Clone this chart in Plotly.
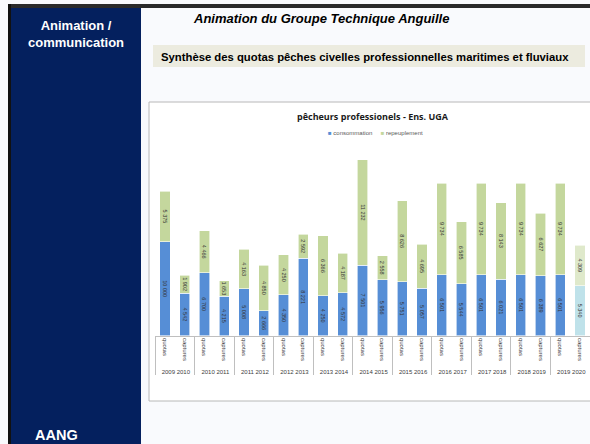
import plotly.graph_objects as go

# Saisons de pêche (civelles) et type de colonne
seasons = ["2009 2010", "2010 2011", "2011 2012", "2012 2013", "2013 2014", "2014 2015",
           "2015 2016", "2016 2017", "2017 2018", "2018 2019", "2019 2020"]
kinds = ["quotas", "captures"]

# Quantités (kg) par saison : quotas puis captures
consommation = [10000, 4542, 6700, 4215, 5008, 2666, 4350, 8221, 4250, 4572, 7501, 5956,
                5751, 5057, 6501, 5544, 6501, 6021, 6501, 6389, 6501, 5340]
repeuplement = [5375, 1902, 4466, 1653, 4163, 4850, 4250, 2592, 6366, 4187, 11232, 2558,
                8626, 4695, 9734, 6585, 9734, 8143, 9734, 6627, 9734, 4309]

outer = [s for s in seasons for _ in kinds]
inner = [k for _ in seasons for k in kinds]

BLUE = "#568ed6"
GREEN = "#c4d79d"
NAVY = "#04205e"

# la saison en cours est représentée en teintes claires
n = len(consommation)
blue_cols = [BLUE] * (n - 1) + ["#bfe2ea"]
green_cols = [GREEN] * (n - 1) + ["#dfe9cb"]

fig = go.Figure()
for name, vals, cols in [("consommation", consommation, blue_cols),
                         ("repeuplement", repeuplement, green_cols)]:
    fig.add_trace(go.Bar(
        x=[outer, inner], y=vals, name=name,
        marker=dict(color=cols, line=dict(color="white", width=0.6)),
        texttemplate="%{y:,}", textposition="inside", textangle=90,
        insidetextanchor="middle", constraintext="none",
        textfont=dict(size=5.5, color="#333333", family="Liberation Sans"),
        showlegend=False,
    ))

W, H = 590, 444


def px(x):
    return x / W


def py(y):
    return 1 - y / H


shapes = [
    # cadre de la diapositive
    dict(type="rect", xref="paper", yref="paper", x0=px(8), x1=1, y0=py(4), y1=py(8),
         fillcolor="#2a2a2a", line_width=0, layer="below"),
    dict(type="rect", xref="paper", yref="paper", x0=px(8), x1=px(11), y0=0, y1=py(4),
         fillcolor="#111111", line_width=0, layer="below"),
    dict(type="rect", xref="paper", yref="paper", x0=px(11), x1=px(141), y0=0, y1=py(8),
         fillcolor=NAVY, line_width=0, layer="below"),
    # bandeau du sous-titre
    dict(type="rect", xref="paper", yref="paper", x0=px(153), x1=px(585), y0=py(67), y1=py(45),
         fillcolor="#ecebdf", line_width=0, layer="below"),
    # zone du graphique
    dict(type="rect", xref="paper", yref="paper", x0=px(149), x1=px(600), y0=py(401), y1=py(102),
         fillcolor="white", line=dict(color="#b8b8b8", width=1), layer="below"),
]


def label(text, x, y, size, color="black", family="Liberation Sans", xanchor="center"):
    return dict(text=text, x=px(x), y=py(y), xref="paper", yref="paper",
                xanchor=xanchor, yanchor="middle", showarrow=False, align="center",
                font=dict(family=family, size=size, color=color))


annotations = [
    label("<b>Animation /<br>communication</b>", 76, 34, 13, "white"),
    label("<b>AANG</b>", 56, 435, 14.5, "white"),
    label("<b><i>Animation du Groupe Technique Anguille</i></b>", 321, 18, 13),
    label("<b>Synthèse des quotas pêches civelles professionnelles maritimes et fluviaux</b>",
          159, 57, 11.3, xanchor="left"),
    label("<b>pêcheurs professionels - Ens. UGA</b>", 373, 116, 9, "#1a1a1a", "Open Sans"),
    # légende
    label(f"<span style='color:{BLUE}'>■</span> consommation     "
          f"<span style='color:{GREEN}'>■</span> repeuplement", 375, 133, 6, "#595959"),
]

fig.update_layout(
    width=W, height=H, autosize=False,
    margin=dict(l=0, r=0, t=0, b=0),
    paper_bgcolor="#f9fafd", plot_bgcolor="rgba(0,0,0,0)",
    barmode="stack", bargap=0.48,
    separators=", ",
    shapes=shapes, annotations=annotations,
    xaxis=dict(domain=[px(155), 1.0], type="multicategory", tickangle=90,
               tickfont=dict(family="Liberation Sans", size=6, color="#404040"),
               showline=True, linecolor="#bfbfbf", linewidth=1,
               showdividers=True, dividercolor="#bfbfbf", dividerwidth=1,
               ticks="", showgrid=False, automargin=False),
    yaxis=dict(domain=[py(335.7), py(147.7)], range=[0, 20000], visible=False),
)

fig.write_html("out.html")
